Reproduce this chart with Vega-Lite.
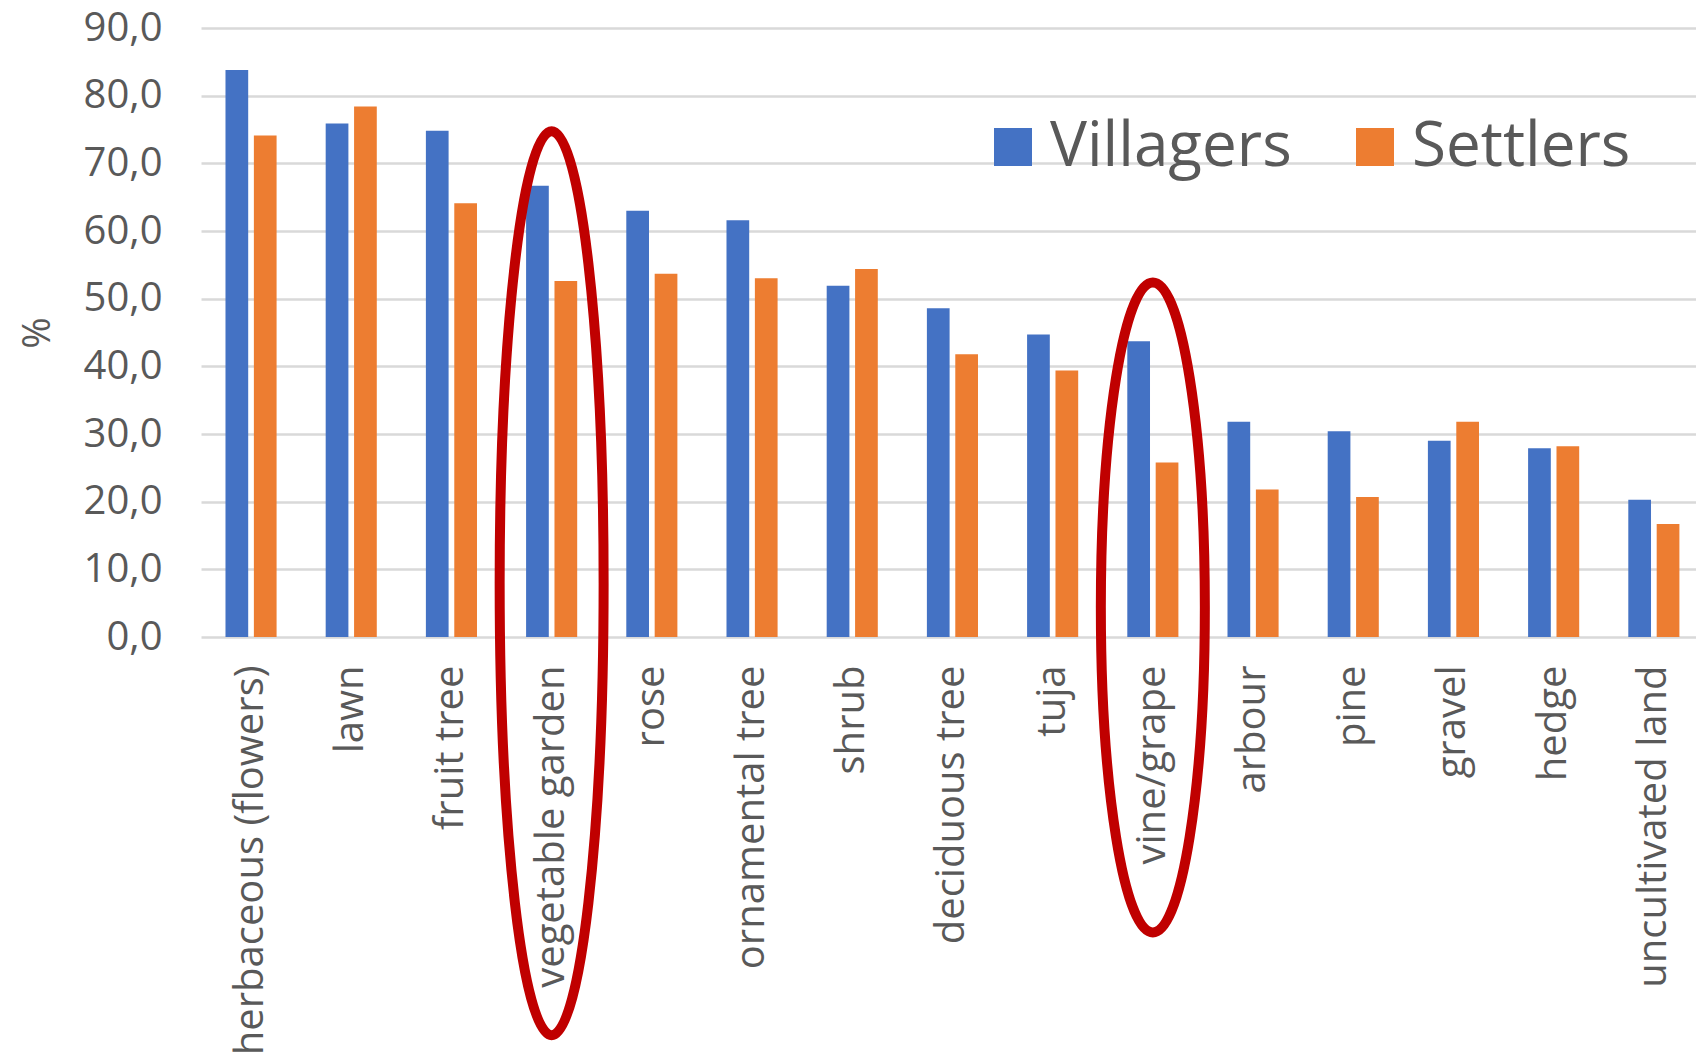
{
  "$schema": "https://vega.github.io/schema/vega-lite/v6.json",
  "width": 1495,
  "height": 609,
  "autosize": {"type": "none"},
  "padding": {"left": 201, "top": 28, "right": 0, "bottom": 427},
  "background": "white",
  "config": {
    "view": {"stroke": null},
    "font": "Open Sans",
    "axis": {"labelColor": "#595959", "titleColor": "#595959", "labelFont": "Open Sans", "titleFont": "Open Sans"},
    "legend": {"labelFont": "Open Sans"}
  },
  "datasets": {
    "bars": [
      {"category": "herbaceous (flowers)", "group": "Villagers", "value": 83.8},
      {"category": "herbaceous (flowers)", "group": "Settlers", "value": 74.1},
      {"category": "lawn", "group": "Villagers", "value": 75.9},
      {"category": "lawn", "group": "Settlers", "value": 78.4},
      {"category": "fruit tree", "group": "Villagers", "value": 74.8},
      {"category": "fruit tree", "group": "Settlers", "value": 64.1},
      {"category": "vegetable garden", "group": "Villagers", "value": 66.7},
      {"category": "vegetable garden", "group": "Settlers", "value": 52.6},
      {"category": "rose", "group": "Villagers", "value": 63.0},
      {"category": "rose", "group": "Settlers", "value": 53.7},
      {"category": "ornamental tree", "group": "Villagers", "value": 61.6},
      {"category": "ornamental tree", "group": "Settlers", "value": 53.0},
      {"category": "shrub", "group": "Villagers", "value": 51.9},
      {"category": "shrub", "group": "Settlers", "value": 54.4},
      {"category": "deciduous tree", "group": "Villagers", "value": 48.6},
      {"category": "deciduous tree", "group": "Settlers", "value": 41.8},
      {"category": "tuja", "group": "Villagers", "value": 44.7},
      {"category": "tuja", "group": "Settlers", "value": 39.4},
      {"category": "vine/grape", "group": "Villagers", "value": 43.7},
      {"category": "vine/grape", "group": "Settlers", "value": 25.8},
      {"category": "arbour", "group": "Villagers", "value": 31.8},
      {"category": "arbour", "group": "Settlers", "value": 21.8},
      {"category": "pine", "group": "Villagers", "value": 30.4},
      {"category": "pine", "group": "Settlers", "value": 20.7},
      {"category": "gravel", "group": "Villagers", "value": 29.0},
      {"category": "gravel", "group": "Settlers", "value": 31.8},
      {"category": "hedge", "group": "Villagers", "value": 27.9},
      {"category": "hedge", "group": "Settlers", "value": 28.2},
      {"category": "uncultivated land", "group": "Villagers", "value": 20.3},
      {"category": "uncultivated land", "group": "Settlers", "value": 16.7}
    ],
    "ring1": [{"category": "vegetable garden"}],
    "ring2": [{"category": "vine/grape"}]
  },
  "layer": [
    {
      "data": {"name": "bars"},
      "mark": {"type": "bar"},
      "encoding": {
        "x": {
          "field": "category", "type": "nominal", "sort": null,
          "scale": {
            "domain": ["herbaceous (flowers)", "lawn", "fruit tree", "vegetable garden", "rose", "ornamental tree", "shrub", "deciduous tree", "tuja", "vine/grape", "arbour", "pine", "gravel", "hedge", "uncultivated land"],
            "paddingInner": 0.49, "paddingOuter": 0.205, "align": 0.596
          },
          "axis": {
            "title": null, "labelAngle": -90, "labelPadding": 28, "ticks": false, "domain": false,
            "labelFontSize": 40, "labelLimit": 0, "grid": false
          }
        },
        "xOffset": {"field": "group", "type": "nominal", "sort": ["Villagers", "Settlers"], "scale": {"paddingInner": 0.2}},
        "y": {
          "field": "value", "type": "quantitative",
          "scale": {"domain": [0, 90], "nice": false},
          "axis": {
            "title": "%", "titleFontSize": 38, "titleFontWeight": "normal", "titlePadding": 26,
            "values": [0, 10, 20, 30, 40, 50, 60, 70, 80, 90],
            "labelExpr": "replace(format(datum.value, '.1f'), '.', ',')",
            "labelFontSize": 40, "labelPadding": 39, "ticks": false, "domain": false,
            "grid": true, "gridColor": "#d9d9d9", "gridWidth": 2.5
          }
        },
        "color": {
          "field": "group", "type": "nominal",
          "scale": {"domain": ["Villagers", "Settlers"], "range": ["#4472C4", "#ED7D31"]},
          "legend": {
            "title": null, "orient": "none", "direction": "horizontal",
            "legendX": 781, "legendY": 88, "padding": 0,
            "symbolType": "square", "symbolSize": 1444, "symbolStrokeWidth": 0,
            "labelFontSize": 62, "labelColor": "#595959", "labelOffset": 6,
            "columnPadding": 52, "labelLimit": 0
          }
        }
      }
    },
    {
      "data": {"name": "ring1"},
      "mark": {
        "type": "point", "filled": false, "stroke": "#C00000", "strokeWidth": 10, "opacity": 1,
        "shape": "M0,-1A0.115,1,0,1,1,0,1A0.115,1,0,1,1,0,-1Z", "size": 817216
      },
      "encoding": {
        "x": {"field": "category", "type": "nominal"},
        "y": {"datum": 7.95, "type": "quantitative"}
      }
    },
    {
      "data": {"name": "ring2"},
      "mark": {
        "type": "point", "filled": false, "stroke": "#C00000", "strokeWidth": 10, "opacity": 1,
        "shape": "M0,-1A0.16,1,0,1,1,0,1A0.16,1,0,1,1,0,-1Z", "size": 422500
      },
      "encoding": {
        "x": {"field": "category", "type": "nominal"},
        "y": {"datum": 4.37, "type": "quantitative"}
      }
    }
  ]
}
